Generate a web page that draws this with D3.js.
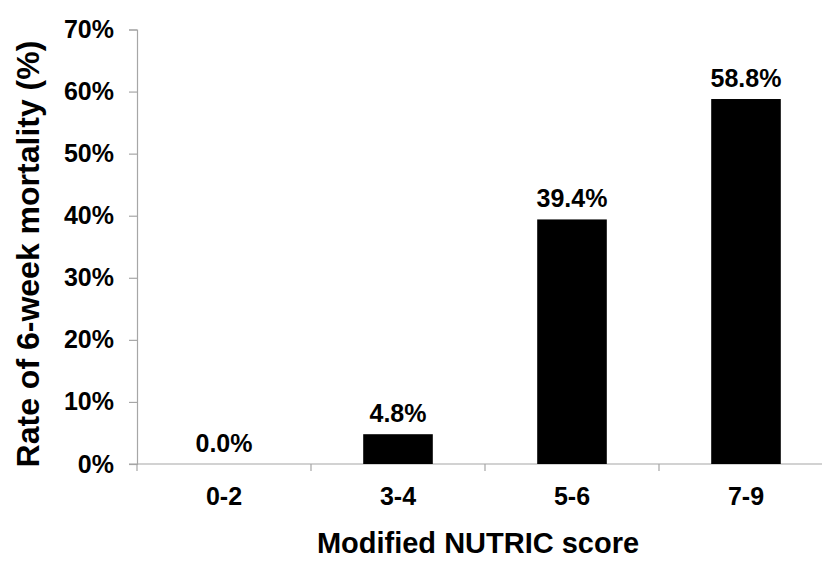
<!DOCTYPE html>
<html><head><meta charset="utf-8">
<script src="https://cdn.jsdelivr.net/npm/d3@7"></script>
<style>html,body{margin:0;padding:0;background:#fff;} svg{display:block;}</style>
</head><body>
<script>
const categories = ["0-2", "3-4", "5-6", "7-9"];
const values = [0.0, 4.8, 39.4, 58.8];
const valueLabels = ["0.0%", "4.8%", "39.4%", "58.8%"];
const yTicks = [0, 10, 20, 30, 40, 50, 60, 70];

const W = 822, H = 561;
const font = "'Liberation Sans', Arial, Helvetica, sans-serif";
const svg = d3.select("body").append("svg").attr("width", W).attr("height", H)
  .style("font-family", font);

const x0 = 137, x1 = 833, yTop = 29.5, yBot = 464;
const x = d3.scaleBand().domain(categories).range([x0, x1]).padding(0);
const y = d3.scaleLinear().domain([0, 70]).range([yBot, yTop]);
const axisColor = "#a6a6a6";

// y axis
const yAxis = svg.append("g").attr("transform", `translate(${x0},0)`)
  .call(d3.axisLeft(y).tickValues(yTicks).tickSize(8).tickPadding(15).tickFormat(d => d + "%"));
yAxis.select(".domain").attr("stroke", axisColor).attr("stroke-width", 1.2);
yAxis.selectAll(".tick line").attr("stroke", axisColor).attr("stroke-width", 1.2);
yAxis.selectAll(".tick text").attr("fill", "#000").style("font-size", "25px")
  .style("font-weight", "bold").style("font-family", font);

// x axis line
svg.append("line").attr("x1", x0 - 8).attr("x2", W).attr("y1", yBot).attr("y2", yBot)
  .attr("stroke", axisColor).attr("stroke-width", 1.2);
// x ticks at band boundaries
const bounds = categories.map(c => x(c)).concat([x1]);
svg.selectAll("line.xt").data(bounds).enter().append("line")
  .attr("x1", d => d).attr("x2", d => d).attr("y1", yBot).attr("y2", yBot + 7)
  .attr("stroke", axisColor).attr("stroke-width", 1.2);
// category labels
svg.selectAll("text.cat").data(categories).enter().append("text")
  .attr("x", d => x(d) + x.bandwidth() / 2).attr("y", 505)
  .attr("text-anchor", "middle").style("font-size", "25px").style("font-weight", "bold")
  .text(d => d);

// bars
const bw = x.bandwidth() * 0.4;
svg.selectAll("rect.bar").data(values).enter().append("rect")
  .attr("x", (d, i) => x(categories[i]) + x.bandwidth() / 2 - bw / 2)
  .attr("width", bw)
  .attr("y", d => y(d)).attr("height", d => yBot - y(d))
  .attr("fill", "#000");

// value labels
svg.selectAll("text.val").data(values).enter().append("text")
  .attr("x", (d, i) => x(categories[i]) + x.bandwidth() / 2)
  .attr("y", d => y(d) - 12)
  .attr("text-anchor", "middle").style("font-size", "25px").style("font-weight", "bold")
  .text((d, i) => valueLabels[i]);

// axis titles
svg.append("text").attr("x", 478).attr("y", 553).attr("text-anchor", "middle")
  .style("font-size", "29px").style("font-weight", "bold").text("Modified NUTRIC score");
svg.append("text").attr("transform", "translate(39,254) rotate(-90)").attr("text-anchor", "middle")
  .style("font-size", "32px").style("font-weight", "bold").text("Rate of 6-week mortality (%)");
</script>
</body></html>
